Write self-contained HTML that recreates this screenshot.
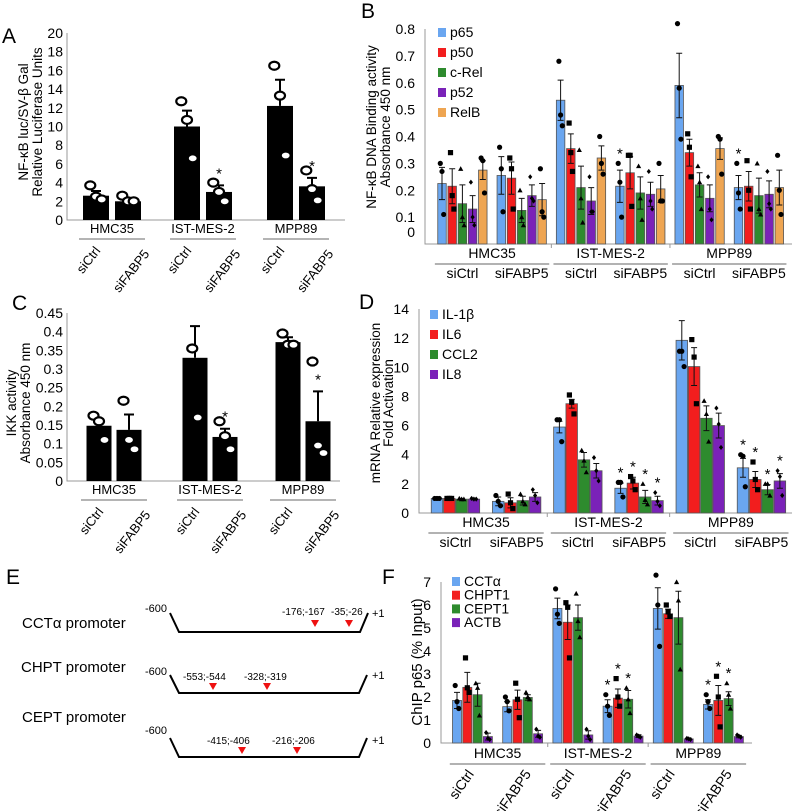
<!DOCTYPE html>
<html><head><meta charset="utf-8">
<style>
html,body{margin:0;padding:0;background:#fff;}
svg{display:block;font-family:"Liberation Sans",Arial,sans-serif;}
</style></head>
<body>
<svg id="fig" width="800" height="811" viewBox="0 0 800 811" xmlns="http://www.w3.org/2000/svg">
<text x="2" y="43" font-size="21">A</text>
<text x="361" y="18" font-size="21">B</text>
<text x="12" y="310" font-size="21">C</text>
<text x="359" y="309" font-size="21">D</text>
<text x="6" y="584" font-size="21">E</text>
<text x="382" y="584" font-size="21">F</text>

<text transform="translate(28,122) rotate(-90)" text-anchor="middle" font-size="13.5">NF-κB luc/SV-β Gal</text>
<text transform="translate(42,122) rotate(-90)" text-anchor="middle" font-size="13.5">Relative Luciferase Units</text>
<text transform="translate(376,127) rotate(-90)" text-anchor="middle" font-size="13.5">NF-κB DNA Binding activity</text>
<text transform="translate(390,127) rotate(-90)" text-anchor="middle" font-size="13.5">Absorbance 450 nm</text>
<text transform="translate(16,403) rotate(-90)" text-anchor="middle" font-size="13.5">IKK activity</text>
<text transform="translate(30,403) rotate(-90)" text-anchor="middle" font-size="13.5">Absorbance 450 nm</text>
<text transform="translate(380,403) rotate(-90)" text-anchor="middle" font-size="13.5">mRNA Relative expression</text>
<text transform="translate(393,403) rotate(-90)" text-anchor="middle" font-size="13.5">Fold Activation</text>
<text transform="translate(422,662) rotate(-90)" text-anchor="middle" font-size="15">ChIP p65 (% Input)</text>

<g font-size="11">
  <text x="22" y="628" font-size="15">CCTα promoter</text>
  <text x="145" y="612">-600</text>
  <polyline points="170,613 179,632 360,632 368,613" fill="none" stroke="#000" stroke-width="2"/>
  <text x="372" y="617">+1</text>
  <text x="282" y="615" font-size="10">-176;-167</text>
  <text x="331" y="615" font-size="10">-35;-26</text>
  <polygon points="311,620 319,620 315,627" fill="#ee1111"/>
  <polygon points="345,620 353,620 349,627" fill="#ee1111"/>

  <text x="21" y="672" font-size="15">CHPT promoter</text>
  <text x="145" y="675">-600</text>
  <polyline points="170,675 179,693 359,693 367,675" fill="none" stroke="#000" stroke-width="2"/>
  <text x="372" y="679">+1</text>
  <text x="183" y="680" font-size="10">-553;-544</text>
  <text x="244" y="680" font-size="10">-328;-319</text>
  <polygon points="209,683 217,683 213,690" fill="#ee1111"/>
  <polygon points="263,683 271,683 267,690" fill="#ee1111"/>

  <text x="22" y="722" font-size="15">CEPT promoter</text>
  <text x="145" y="734">-600</text>
  <polyline points="170,738 179,757 359,757 367,738" fill="none" stroke="#000" stroke-width="2"/>
  <text x="372" y="744">+1</text>
  <text x="207" y="744" font-size="10">-415;-406</text>
  <text x="272" y="744" font-size="10">-216;-206</text>
  <polygon points="238,747 246,747 242,754" fill="#ee1111"/>
  <polygon points="293,747 301,747 297,754" fill="#ee1111"/>
</g>
</svg>
<script>
const groupNames = ["HMC35", "IST-MES-2", "MPP89"];
const condNames = ["siCtrl", "siFABP5"];

// Panel A
const aTicks = [0, 2, 4, 6, 8, 10, 12, 14, 16, 18, 20];
const aValues = [2.6, 2.0, 10.0, 3.0, 12.2, 3.6];
const aErrors = [0.5, 0.35, 1.7, 0.7, 2.8, 0.9];
const aPoints = [[3.7, 2.5, 2.2], [2.6, 2.0, 2.0], [12.7, 10.7, 6.6], [4.0, 3.0, 2.0], [16.5, 13.3, 6.9], [5.3, 3.3, 2.1]];
const aStars = [false, false, false, true, false, true];

// Panel C
const cTicks = [0, 0.05, 0.1, 0.15, 0.2, 0.25, 0.3, 0.35, 0.4, 0.45];
const cTickLabels = ["0", "0.05", "0.1", "0.15", "0.2", "0.25", "0.3", "0.35", "0.4", "0.45"];
const cValues = [0.148, 0.137, 0.33, 0.118, 0.372, 0.16];
const cErrors = [0.017, 0.041, 0.085, 0.022, 0.013, 0.08];
const cPoints = [[0.175, 0.16, 0.11], [0.215, 0.11, 0.085], [0.355, 0.17], [0.16, 0.12, 0.085], [0.395, 0.365, 0.365], [0.32, 0.095, 0.075]];
const cStars = [false, false, false, true, false, true];

// Panel B
const bSeries = ["p65", "p50", "c-Rel", "p52", "RelB"];
const bTicks = [0, 0.1, 0.2, 0.3, 0.4, 0.5, 0.6, 0.7, 0.8];
const bValues = [
  [0.225, 0.215, 0.15, 0.13, 0.275],
  [0.255, 0.245, 0.125, 0.18, 0.165],
  [0.535, 0.355, 0.21, 0.16, 0.32],
  [0.215, 0.265, 0.19, 0.185, 0.205],
  [0.59, 0.34, 0.22, 0.17, 0.355],
  [0.21, 0.215, 0.18, 0.185, 0.21]];
const bErrors = [
  [0.06, 0.065, 0.07, 0.05, 0.035],
  [0.07, 0.06, 0.045, 0.04, 0.06],
  [0.075, 0.055, 0.08, 0.05, 0.045],
  [0.06, 0.06, 0.06, 0.045, 0.05],
  [0.12, 0.05, 0.045, 0.05, 0.04],
  [0.045, 0.055, 0.065, 0.05, 0.065]];
const bPoints = [
  [[0.3, 0.27, 0.11], [0.34, 0.18, 0.13], [0.28, 0.1, 0.07], [0.23, 0.1, 0.07], [0.32, 0.31, 0.19]],
  [[0.36, 0.28, 0.12], [0.32, 0.28, 0.13], [0.2, 0.1, 0.07], [0.25, 0.17, 0.16], [0.28, 0.12, 0.1]],
  [[0.68, 0.48, 0.44], [0.45, 0.34, 0.27], [0.35, 0.17, 0.08], [0.25, 0.12, 0.12], [0.4, 0.3, 0.26]],
  [[0.3, 0.23, 0.1], [0.33, 0.33, 0.14], [0.29, 0.17, 0.09], [0.27, 0.16, 0.13], [0.3, 0.16, 0.16]],
  [[0.82, 0.58, 0.39], [0.41, 0.36, 0.25], [0.29, 0.23, 0.13], [0.25, 0.13, 0.09], [0.4, 0.39, 0.26]],
  [[0.3, 0.19, 0.13], [0.31, 0.2, 0.13], [0.3, 0.13, 0.11], [0.27, 0.15, 0.13], [0.33, 0.2, 0.11]]];
const bStars = [[], [], [], [0], [], [0]];

// Panel D
const dSeries = ["IL-1β", "IL6", "CCL2", "IL8"];
const dTicks = [0, 2, 4, 6, 8, 10, 12, 14];
const dValues = [
  [1.0, 1.0, 0.95, 0.95],
  [0.8, 0.7, 0.85, 1.1],
  [5.9, 7.5, 3.65, 2.9],
  [1.7, 2.05, 1.1, 0.85],
  [11.85, 10.05, 6.5, 6.0],
  [3.1, 2.3, 1.6, 2.2]];
const dErrors = [
  [0.05, 0.05, 0.05, 0.05],
  [0.3, 0.35, 0.3, 0.3],
  [0.4, 0.3, 0.5, 0.5],
  [0.35, 0.4, 0.45, 0.3],
  [1.35, 1.3, 0.85, 0.85],
  [0.65, 0.55, 0.35, 0.5]];
const dPoints = [
  [[1, 1, 1], [1, 1, 1], [1, 0.95, 0.95], [1, 0.95, 0.95]],
  [[1.2, 0.8, 0.5], [1.3, 0.7, 0.3], [1.3, 0.8, 0.6], [1.6, 1.2, 0.7]],
  [[6.4, 6.4, 4.9], [8.1, 7.6, 6.8], [4.3, 3.6, 2.8], [3.8, 2.9, 2.2]],
  [[2.1, 2.1, 1.1], [2.5, 2.2, 1.6], [2.0, 0.9, 0.6], [1.4, 0.8, 0.5]],
  [[11.1, 11.1, 10.05], [11.9, 10.7, 7.5], [7.7, 6.8, 4.9], [7.2, 6.1, 4.5]],
  [[4.0, 3.9, 1.8], [3.5, 2.3, 1.6], [2.0, 2.0, 1.2], [2.9, 2.5, 1.2]]];
const dStars = [[], [], [], [0, 1, 2, 3], [], [0, 1, 2, 3]];

// Panel F
const fSeries = ["CCTα", "CHPT1", "CEPT1", "ACTB"];
const fTicks = [0, 1, 2, 3, 4, 5, 6, 7];
const fValues = [
  [1.85, 2.42, 2.1, 0.28],
  [1.58, 1.88, 1.98, 0.4],
  [5.85, 5.25, 5.45, 0.35],
  [1.6, 1.95, 1.9, 0.3],
  [5.85, 5.62, 5.45, 0.18],
  [1.68, 1.85, 1.93, 0.28]];
const fErrors = [
  [0.35, 0.65, 0.5, 0.15],
  [0.22, 0.42, 0.12, 0.15],
  [0.45, 0.75, 0.55, 0.18],
  [0.28, 0.4, 0.38, 0.06],
  [0.9, 0.2, 1.15, 0.03],
  [0.2, 0.65, 0.3, 0.05]];
const fPoints = [
  [[2.5, 1.8, 1.5], [3.7, 2.4, 2.2], [2.6, 2.4, 1.2], [0.45, 0.2, 0.15]],
  [[2.0, 1.8, 1.4], [2.6, 1.9, 1.1], [2.2, 2.0, 1.9], [0.6, 0.3, 0.25]],
  [[6.7, 5.6, 5.2], [6.1, 5.9, 3.7], [6.5, 5.3, 4.6], [0.6, 0.3, 0.15]],
  [[2.1, 1.6, 1.2], [2.8, 2.0, 1.6], [2.4, 1.9, 1.3], [0.35, 0.3, 0.25]],
  [[7.3, 6.0, 4.2], [6.0, 5.7, 5.5], [7.0, 6.2, 3.2], [0.2, 0.18, 0.15]],
  [[2.1, 1.8, 1.5], [2.9, 2.0, 0.7], [2.6, 2.1, 1.5], [0.35, 0.3, 0.25]]];
const fStars = [[], [], [], [0, 1, 2], [], [0, 1, 2]];

const NS = "http://www.w3.org/2000/svg";
const svg = document.getElementById("fig");
function mk(tag, parent, attrs) {
  const e = document.createElementNS(NS, tag);
  for (const k in attrs) e.setAttribute(k, attrs[k]);
  parent.appendChild(e);
  return e;
}
function txt(parent, x, y, s, size, anchor, extra) {
  const t = mk("text", parent, Object.assign({x: x, y: y, "font-size": size, "text-anchor": anchor || "start"}, extra || {}));
  t.textContent = s;
  return t;
}
function marker(parent, shape, x, y, fill, r) {
  let m;
  if (shape === "square") m = mk("rect", parent, {x: x - r, y: y - r, width: 2 * r, height: 2 * r, fill: fill});
  else if (shape === "triangle") m = mk("polygon", parent, {points: (x - r) + "," + (y + r * 0.8) + " " + (x + r) + "," + (y + r * 0.8) + " " + x + "," + (y - r), fill: fill});
  else if (shape === "diamond") m = mk("polygon", parent, {points: x + "," + (y - r) + " " + (x + r * 0.8) + "," + y + " " + x + "," + (y + r) + " " + (x - r * 0.8) + "," + y, fill: fill});
  else m = mk("circle", parent, {cx: x, cy: y, r: r, fill: fill});
  return m;
}

function drawSingle(p) {
  const g = mk("g", svg, {});
  
  
  const y = v => p.y0 - (v / p.yMax) * (p.y0 - p.yTop);
  const x = i => p.groupX[Math.floor(i / 2)] + (i % 2 === 0 ? -p.half : p.half);
  const ax = mk("path", g, {d: "M" + p.x0 + "," + p.yTop + "V" + p.y0 + "H" + p.xEnd, stroke: "#999", fill: "none", "stroke-width": 1});
  
  
  p.ticks.forEach((t, i) => {
    const tl = txt(g, p.x0 - 4, y(t) + 5, p.tickLabels ? p.tickLabels[i] : String(t), 14, "end");
    
    
  });
  p.values.forEach((v, i) => {
    const cx = x(i);
    const eb = mk("path", g, {d: "M" + cx + "," + y(v) + "V" + y(v + p.errors[i]) + "M" + (cx - 5) + "," + y(v + p.errors[i]) + "H" + (cx + 5), stroke: "#000", "stroke-width": 2});
    
    
    const b = mk("rect", g, {x: cx - p.bw / 2, y: y(v), width: p.bw, height: p.y0 - y(v), fill: "#000"});
    
    
    const pts = p.points[i];
    const n = pts.length;
    pts.forEach((pv, k) => {
      const px = cx + (n === 1 ? 0 : (k - (n - 1) / 2) * (p.bw * 0.22));
      const c = mk("ellipse", g, {cx: px, cy: y(pv), rx: 5, ry: 4, fill: "#fff", stroke: "#000", "stroke-width": 2.2});
      
      
    });
    if (p.stars[i]) {
      const s = txt(g, cx, y(p.values[i] + p.errors[i]) - p.starOff, "*", 15, "middle");
      
      
    }
  });
  groupNames.forEach((gn, gi) => {
    const gx = p.groupX[gi];
    const l = txt(g, gx, p.labelY, gn, 13, "middle");
    
    
    const ul = mk("line", g, {x1: gx - 33, x2: gx + 33, y1: p.labelY + 6, y2: p.labelY + 6, stroke: "#888", "stroke-width": 1.3});
    
    
    condNames.forEach((cn, ci) => {
      const cx = x(gi * 2 + ci);
      const ex = cx + (ci === 0 ? 5 : 22);
      const ey = p.rotY + (ci === 0 ? 0 : 3);
      const t = txt(g, ex, ey, cn, 13, "end", {transform: "rotate(-52 " + ex + " " + ey + ")"});
      
      
    });
  });
}

drawSingle({name: "panel-a-chart", x0: 67, xEnd: 345, y0: 220, yTop: 33, yMax: 20, ticks: aTicks,
  values: aValues, errors: aErrors, points: aPoints, stars: aStars, groupX: [112, 203, 296], half: 16, bw: 26,
  labelY: 233, rotY: 251, starOff: 7});
drawSingle({name: "panel-c-chart", x0: 67, xEnd: 340, y0: 481, yTop: 313, yMax: 0.45, ticks: cTicks, tickLabels: cTickLabels,
  values: cValues, errors: cErrors, points: cPoints, stars: cStars, groupX: [114, 210, 303], half: 15, bw: 25,
  labelY: 494, rotY: 512, starOff: 7});

const colors = ["#6aa6f0", "#f21e1e", "#2e8b2e", "#7a22b8", "#eea552"];
const shapes = ["circle", "square", "triangle", "diamond", "circle"];
function drawMulti(p) {
  const g = mk("g", svg, {});
  
  
  const y = v => p.y0 - (v / p.yMax) * (p.y0 - p.yTop);
  const bx = (sg, k) => p.base + sg * p.step + k * p.inner;
  const ax = mk("path", g, {d: "M" + p.x0 + "," + p.yTop + "V" + p.y0 + "H" + p.xEnd, stroke: "#999", fill: "none", "stroke-width": 1});
  
  
  p.ticks.forEach(t => {
    const tl = txt(g, p.x0 - 10, y(t) + 5 - (t === 0 ? p.zeroLift : 0), String(t), 14, "end");
    
    
  });
  [1, 2].forEach(gi => {
    const dx = (bx(gi * 2, 0) + bx(gi * 2 - 1, p.series.length - 1)) / 2;
    const tk = mk("line", g, {x1: dx, x2: dx, y1: p.y0, y2: p.y0 + 4, stroke: "#999"});
    
    
  });
  p.values.forEach((row, sg) => {
    row.forEach((v, k) => {
      const cx = bx(sg, k);
      const b = mk("rect", g, {x: cx - p.bw / 2, y: y(v), width: p.bw, height: p.y0 - y(v), fill: colors[k], stroke: "#555", "stroke-width": 0.8});
      
      
      const e = p.errors[sg][k];
      const eb = mk("path", g, {d: "M" + cx + "," + y(v - e) + "V" + y(v + e) + "M" + (cx - 3) + "," + y(v + e) + "H" + (cx + 3) + "M" + (cx - 3) + "," + y(v - e) + "H" + (cx + 3), stroke: "#111", "stroke-width": 1});
      
      
      let maxV = v + e;
      p.points[sg][k].forEach((pv, j) => {
        const m = marker(g, shapes[k], cx + (j - 1) * p.bw * 0.2, y(pv), "#000", 2.6);
        
        
        maxV = Math.max(maxV, pv);
      });
      if (p.stars[sg].indexOf(k) >= 0) {
        const s = txt(g, cx, y(maxV) - 5, "*", 15, "middle");
        
        
      }
    });
  });
  const nS = p.series.length;
  groupNames.forEach((gn, gi) => {
    const left = bx(gi * 2, 0) - p.inner * 0.7, right = bx(gi * 2 + 1, nS - 1) + p.inner * 0.7;
    const l = txt(g, (left + right) / 2, p.labelY, gn, 14, "middle");
    
    
    const ul = mk("line", g, {x1: left, x2: right, y1: p.labelY + 6, y2: p.labelY + 6, stroke: "#666", "stroke-width": 1});
    
    
    condNames.forEach((cn, ci) => {
      const sg = gi * 2 + ci;
      const mid = (bx(sg, 0) + bx(sg, nS - 1)) / 2;
      let t;
      if (p.rotate) {
        const ex = mid + (ci === 0 ? 2 : 9), ey = p.labelY + 16;
        t = txt(g, ex, ey, cn, 14, "end", {transform: "rotate(-55 " + ex + " " + ey + ")"});
      } else {
        t = txt(g, mid, p.labelY + 20, cn, 14, "middle");
      }
      
      
    });
  });
  p.series.forEach((s, k) => {
    const ly = p.legY + k * p.legStep;
    const sq = mk("rect", g, {x: p.legX - 4, y: ly - 4, width: 8, height: 9, fill: colors[k]});
    
    
    const lt = txt(g, p.legX + 8, ly + 5, s, p.legFont, "start");
    
    
  });
}

drawMulti({name: "panel-b-chart", series: bSeries, ticks: bTicks, values: bValues, errors: bErrors, points: bPoints, stars: bStars,
  x0: 425, xEnd: 792, y0: 244, yTop: 29, yMax: 0.8, zeroLift: 12, base: 442, step: 59.3, inner: 10.2, bw: 8.5,
  labelY: 258, rotate: false, legX: 442, legY: 32, legStep: 20, legFont: 14});
drawMulti({name: "panel-d-chart", series: dSeries, ticks: dTicks, values: dValues, errors: dErrors, points: dPoints, stars: dStars,
  x0: 419, xEnd: 792, y0: 513, yTop: 309, yMax: 14, zeroLift: 0, base: 437, step: 61.2, inner: 12.3, bw: 11.5,
  labelY: 527, rotate: false, legX: 434, legY: 314, legStep: 20, legFont: 14});
drawMulti({name: "panel-f-chart", series: fSeries, ticks: fTicks, values: fValues, errors: fErrors, points: fPoints, stars: fStars,
  x0: 441, xEnd: 752, y0: 743, yTop: 582, yMax: 7, zeroLift: 0, base: 457, step: 50.2, inner: 10.3, bw: 9,
  labelY: 758, rotate: true, legX: 456, legY: 581, legStep: 13.7, legFont: 14});
</script>
</body></html>
